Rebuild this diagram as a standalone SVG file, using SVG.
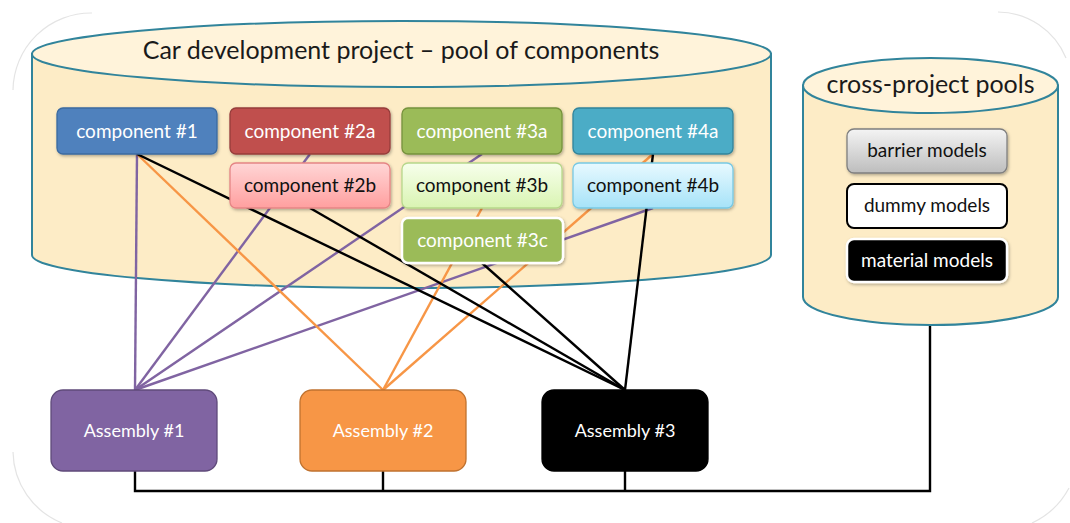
<svg xmlns="http://www.w3.org/2000/svg" width="1070" height="523" viewBox="0 0 1070 523">
<style>
text{font-family:Lato,"Liberation Sans",sans-serif;text-anchor:middle}
.cyl{fill:#fdecc6;stroke:#31849b;stroke-width:2}
.cyltop{fill:#fff3da;stroke:#31849b;stroke-width:2}
.title{font-size:25px;fill:#1a1a1a}
.comp{font-size:19px}
.w{fill:#fff}
.k{fill:#111}
.box{stroke-width:1.3}
.asm{font-size:18px;fill:#fff}
.conn{fill:none;stroke-width:2.4}
.pu{stroke:#8064a2}
.or{stroke:#f79646}
.bl{stroke:#000}
.frame{fill:none;stroke:#e4e4e4;stroke-width:1.2}
</style>
<defs>
<linearGradient id="g2b" x1="0" y1="0" x2="0" y2="1"><stop offset="0" stop-color="#ffd6d6"/><stop offset="1" stop-color="#ff9f9f"/></linearGradient>
<linearGradient id="g3b" x1="0" y1="0" x2="0" y2="1"><stop offset="0" stop-color="#f7ffec"/><stop offset="1" stop-color="#d9f4b2"/></linearGradient>
<linearGradient id="g4b" x1="0" y1="0" x2="0" y2="1"><stop offset="0" stop-color="#e8f9ff"/><stop offset="1" stop-color="#a6e3f8"/></linearGradient>
<linearGradient id="gbar" x1="0" y1="0" x2="0" y2="1"><stop offset="0" stop-color="#f4f4f4"/><stop offset="1" stop-color="#bdbdbd"/></linearGradient>
<filter id="sh" x="-10%" y="-20%" width="130%" height="160%"><feDropShadow dx="1" dy="1.5" stdDeviation="1.5" flood-color="#000" flood-opacity="0.3"/></filter>
</defs>

<g id="frame">
<path class="frame" d="M92,13 A78,78 0 0 0 13,90"/>
<path class="frame" d="M13,452 A78,78 0 0 0 62,523"/>
<path class="frame" d="M1069,488 A80,80 0 0 1 1032,523"/>
<path class="frame" d="M998,12 A74,74 0 0 1 1066,58"/>
</g>

<g id="pool-car">
<path class="cyl" d="M32,54 V255 A369.5,33 0 0 0 771,255 V54 Z"/>
<ellipse class="cyltop" cx="401.5" cy="54" rx="369.5" ry="33"/>
<text class="title" x="401" y="59">Car development project – pool of components</text>
</g>

<g id="pool-cross">
<path class="cyl" d="M803,85.5 V297 A127.5,28 0 0 0 1058,297 V85.5 Z"/>
<ellipse class="cyltop" cx="930.5" cy="85.5" rx="127.5" ry="27.5"/>
<text class="title" x="930.5" y="93">cross-project pools</text>
</g>

<g id="connectors">
<line class="conn pu" x1="137" y1="154" x2="135" y2="390"/>
<line class="conn pu" x1="310" y1="154" x2="135" y2="390"/>
<line class="conn pu" x1="482" y1="154" x2="135" y2="390"/>
<line class="conn pu" x1="653" y1="208" x2="135" y2="390"/>
<line class="conn or" x1="137" y1="154" x2="383" y2="390"/>
<line class="conn or" x1="482" y1="208" x2="383" y2="390"/>
<line class="conn or" x1="653" y1="154" x2="383" y2="390"/>
<line class="conn bl" x1="137" y1="154" x2="625" y2="390"/>
<line class="conn bl" x1="310" y1="208" x2="625" y2="390"/>
<line class="conn bl" x1="482" y1="263" x2="625" y2="390"/>
<line class="conn bl" x1="653" y1="154" x2="625" y2="390"/>
<polyline class="conn bl" points="135,471 135,491 930,491 930,326"/>
<line class="conn bl" x1="383" y1="471" x2="383" y2="491"/>
<line class="conn bl" x1="625" y1="471" x2="625" y2="491"/>
</g>

<g id="c1"><rect class="box" x="57" y="108" width="160" height="46" rx="6" fill="#4f81bd" stroke="#3b6aa0" filter="url(#sh)"/><text class="comp w" x="137" y="138">component #1</text></g>
<g id="c2a"><rect class="box" x="230" y="108" width="160" height="46" rx="6" fill="#c0504d" stroke="#963c3a" filter="url(#sh)"/><text class="comp w" x="310" y="138">component #2a</text></g>
<g id="c2b"><rect class="box" x="230" y="163" width="160" height="45" rx="6" fill="url(#g2b)" stroke="#e58585" filter="url(#sh)"/><text class="comp k" x="310" y="192">component #2b</text></g>
<g id="c3a"><rect class="box" x="402" y="108" width="160" height="46" rx="6" fill="#9bbb59" stroke="#76923c" filter="url(#sh)"/><text class="comp w" x="482" y="138">component #3a</text></g>
<g id="c3b"><rect class="box" x="402" y="163" width="160" height="45" rx="6" fill="url(#g3b)" stroke="#b7d78b" filter="url(#sh)"/><text class="comp k" x="482" y="192">component #3b</text></g>
<g id="c3c"><rect x="402" y="218" width="161" height="45" rx="6" fill="#9bbb59" stroke="#fff" stroke-width="2.5" filter="url(#sh)"/><text class="comp w" x="482.5" y="247">component #3c</text></g>
<g id="c4a"><rect class="box" x="573" y="108" width="160" height="46" rx="6" fill="#4bacc6" stroke="#31849b" filter="url(#sh)"/><text class="comp w" x="653" y="138">component #4a</text></g>
<g id="c4b"><rect class="box" x="573" y="163" width="160" height="45" rx="6" fill="url(#g4b)" stroke="#78c9e4" filter="url(#sh)"/><text class="comp k" x="653" y="192">component #4b</text></g>

<g id="barrier"><rect x="847" y="129" width="160" height="44" rx="7" fill="url(#gbar)" stroke="#7f7f7f" stroke-width="1.3" filter="url(#sh)"/><text class="comp k" x="927" y="157">barrier models</text></g>
<g id="dummy"><rect x="847" y="184" width="160" height="44" rx="7" fill="#fff" stroke="#000" stroke-width="2"/><text class="comp k" x="927" y="212">dummy models</text></g>
<g id="material"><rect x="847" y="239" width="160" height="43" rx="7" fill="#000" stroke="#fff" stroke-width="2.5" filter="url(#sh)"/><text class="comp w" x="927" y="267">material models</text></g>

<g id="a1"><rect x="51" y="390" width="166" height="81" rx="12" fill="#8064a2" stroke="#5f4a7a" stroke-width="1.3"/><text class="asm" x="134" y="437">Assembly #1</text></g>
<g id="a2"><rect x="300" y="390" width="166" height="81" rx="12" fill="#f79646" stroke="#c0722f" stroke-width="1.3"/><text class="asm" x="383" y="437">Assembly #2</text></g>
<g id="a3"><rect x="542" y="390" width="166" height="81" rx="12" fill="#000" stroke="#000" stroke-width="1.3"/><text class="asm" x="625" y="437">Assembly #3</text></g>
</svg>
